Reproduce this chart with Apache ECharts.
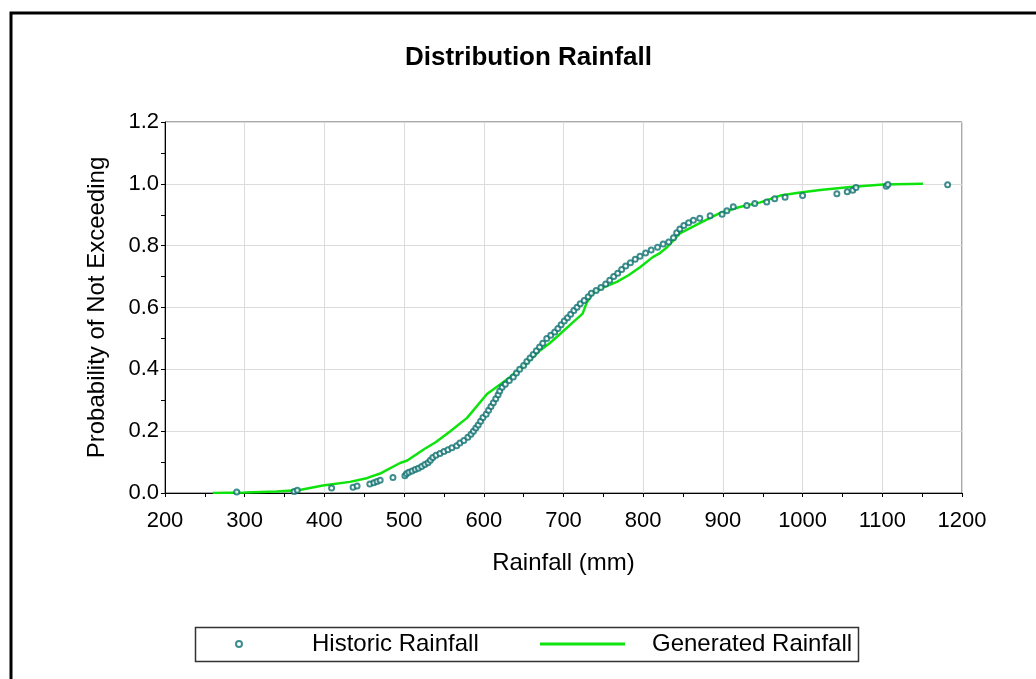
<!DOCTYPE html>
<html>
<head>
<meta charset="utf-8">
<title>Distribution Rainfall</title>
<script src="https://cdn.jsdelivr.net/npm/echarts@6/dist/echarts.min.js"></script>
<style>
  html, body { margin: 0; padding: 0; background: #fff; }
  #chart { width: 1036px; height: 679px; }
</style>
</head>
<body>
<div id="chart"></div>
<script>
// Historic rainfall (mm) and its probability of not exceeding
const historicRain = [290, 362, 366, 409, 436, 441, 457, 462, 466, 470, 486, 501, 503, 506, 510, 514, 518, 522, 526, 530,
  533, 536, 540, 545, 550, 555, 560, 566, 570, 575, 580, 584, 587, 590, 593, 596, 599, 603, 606, 609,
  612, 615, 618, 620, 623, 627, 632, 637, 641, 645, 650, 654, 658, 662, 666, 670, 674, 679, 684, 689,
  693, 697, 701, 705, 709, 713, 717, 721, 726, 731, 735, 741, 747, 753, 758, 763, 768, 773, 778, 784,
  790, 796, 803, 810, 818, 825, 832, 838, 842, 846, 851, 857, 863, 871, 884, 899, 905, 913, 930, 940,
  955, 965, 978, 1000, 1043, 1056, 1063, 1067, 1105, 1107, 1182];
const historicProb = [0.003, 0.005, 0.009, 0.016, 0.019, 0.023, 0.029, 0.033, 0.037, 0.041, 0.05, 0.056, 0.062, 0.067, 0.071, 0.076, 0.08, 0.086, 0.092, 0.098,
  0.106, 0.115, 0.122, 0.128, 0.134, 0.14, 0.146, 0.153, 0.162, 0.17, 0.18, 0.19, 0.2, 0.21, 0.22, 0.232, 0.244, 0.255, 0.268, 0.28,
  0.292, 0.305, 0.318, 0.33, 0.342, 0.352, 0.364, 0.375, 0.388, 0.4, 0.412, 0.425, 0.437, 0.448, 0.46, 0.472, 0.484, 0.5, 0.51, 0.521,
  0.532, 0.544, 0.556, 0.567, 0.578, 0.59, 0.601, 0.612, 0.623, 0.635, 0.646, 0.655, 0.665, 0.676, 0.688, 0.7, 0.711, 0.723, 0.734, 0.745,
  0.756, 0.766, 0.776, 0.786, 0.795, 0.805, 0.812, 0.826, 0.842, 0.854, 0.865, 0.874, 0.882, 0.889, 0.897, 0.902, 0.913, 0.926, 0.93, 0.936,
  0.941, 0.952, 0.957, 0.962, 0.968, 0.974, 0.979, 0.988, 0.992, 0.998, 0.997];

// Generated rainfall distribution curve
const generatedRain = [260, 300, 340, 369, 398, 432, 453, 470, 478, 495, 504, 524, 540, 558, 579, 604, 620, 633, 654, 670,
  683, 696, 710, 724, 729, 737, 750, 767, 782, 796, 812, 821, 830, 846, 871, 896, 921, 947, 972, 997,
  1022, 1060, 1101, 1151];
const generatedProb = [0.0, 0.002, 0.005, 0.01, 0.024, 0.036, 0.048, 0.063, 0.074, 0.097, 0.105, 0.14, 0.165, 0.2, 0.243, 0.32, 0.35, 0.375, 0.42, 0.46,
  0.485, 0.515, 0.548, 0.58, 0.615, 0.647, 0.665, 0.683, 0.705, 0.73, 0.763, 0.776, 0.795, 0.84, 0.873, 0.905, 0.925, 0.94, 0.962, 0.972,
  0.98, 0.99, 0.998, 1.0];

const xTicks = [200, 300, 400, 500, 600, 700, 800, 900, 1000, 1100, 1200];
const yTicks = [0.0, 0.2, 0.4, 0.6, 0.8, 1.0, 1.2];

const FONT = '"Liberation Sans", Arial, sans-serif';

const historicData = historicRain.map((r, i) => [r, historicProb[i]]);
const generatedData = generatedRain.map((r, i) => [r, generatedProb[i]]);

const chart = echarts.init(document.getElementById('chart'), null, { renderer: 'canvas' });

chart.setOption({
  backgroundColor: '#ffffff',
  animation: false,
  title: {
    text: 'Distribution Rainfall',
    left: 400,
    top: 40,
    textStyle: { fontFamily: FONT, fontSize: 26, fontWeight: 'bold', color: '#000' }
  },
  grid: {
    left: 165, right: 74, top: 122, bottom: 186,
    show: true, borderColor: '#555', borderWidth: 1, backgroundColor: '#fff'
  },
  xAxis: {
    type: 'value',
    min: xTicks[0], max: xTicks[xTicks.length - 1], interval: 100,
    name: 'Rainfall (mm)', nameLocation: 'middle', nameGap: 58,
    nameTextStyle: { fontFamily: FONT, fontSize: 24, color: '#000' },
    axisLine: { show: true, lineStyle: { color: '#000', width: 1 } },
    axisTick: { show: true, length: 4, lineStyle: { color: '#000' } },
    minorTick: { show: true, splitNumber: 2, length: 4, lineStyle: { color: '#000' } },
    axisLabel: { fontFamily: FONT, fontSize: 22, color: '#000', margin: 17, formatter: v => String(v) },
    splitLine: { show: true, lineStyle: { color: '#dcdcdc', width: 1 } }
  },
  yAxis: {
    type: 'value',
    min: yTicks[0], max: yTicks[yTicks.length - 1], interval: 0.2,
    name: 'Probability of Not Exceeding', nameLocation: 'middle', nameGap: 56,
    nameTextStyle: { fontFamily: FONT, fontSize: 24, color: '#000' },
    axisLine: { show: true, lineStyle: { color: '#000', width: 1 } },
    axisTick: { show: true, length: 4, lineStyle: { color: '#000' } },
    minorTick: { show: true, splitNumber: 2, length: 4, lineStyle: { color: '#000' } },
    axisLabel: {
      fontFamily: FONT, fontSize: 22, color: '#000', margin: 6,
      formatter: v => v.toFixed(1)
    },
    splitLine: { show: true, lineStyle: { color: '#dcdcdc', width: 1 } }
  },
  legend: [
    {
      data: ['Historic Rainfall'],
      left: 235, top: 632, padding: 0,
      itemWidth: 10, itemHeight: 6,
      formatter: n => '{t|' + n + '}',
      textStyle: {
        fontFamily: FONT, fontSize: 24, color: '#000',
        rich: { t: { fontFamily: FONT, fontSize: 24, color: '#000', padding: [0, 0, 0, 63] } }
      }
    },
    {
      data: ['Generated Rainfall'],
      left: 540, top: 632, padding: 0,
      icon: 'rect',
      itemWidth: 85, itemHeight: 3,
      formatter: n => '{t|' + n + '}',
      textStyle: {
        fontFamily: FONT, fontSize: 24, color: '#000',
        rich: { t: { fontFamily: FONT, fontSize: 24, color: '#000', padding: [0, 0, 0, 22] } }
      }
    }
  ],
  graphic: [
    // outer frame: top and left edges
    {
      type: 'polyline', silent: true,
      shape: { points: [[11, 679], [11, 13], [1036, 13]] },
      style: { stroke: '#000', lineWidth: 3, fill: null }
    },
    // legend box
    {
      type: 'rect', silent: true, z: -1,
      shape: { x: 195.5, y: 627.5, width: 663, height: 34 },
      style: { stroke: '#333', lineWidth: 1.5, fill: '#fff' }
    }
  ],
  series: [
    {
      name: 'Historic Rainfall',
      type: 'scatter',
      data: historicData,
      symbol: 'emptyCircle',
      symbolSize: 5,
      itemStyle: { color: '#0f7070', borderColor: '#0f7070', borderWidth: 1.2 },
      z: 3
    },
    {
      name: 'Generated Rainfall',
      type: 'line',
      data: generatedData,
      symbol: 'none',
      lineStyle: { color: '#0ee30e', width: 2.5 },
      itemStyle: { color: '#0ee30e' },
      z: 2
    }
  ]
});
</script>
</body>
</html>
